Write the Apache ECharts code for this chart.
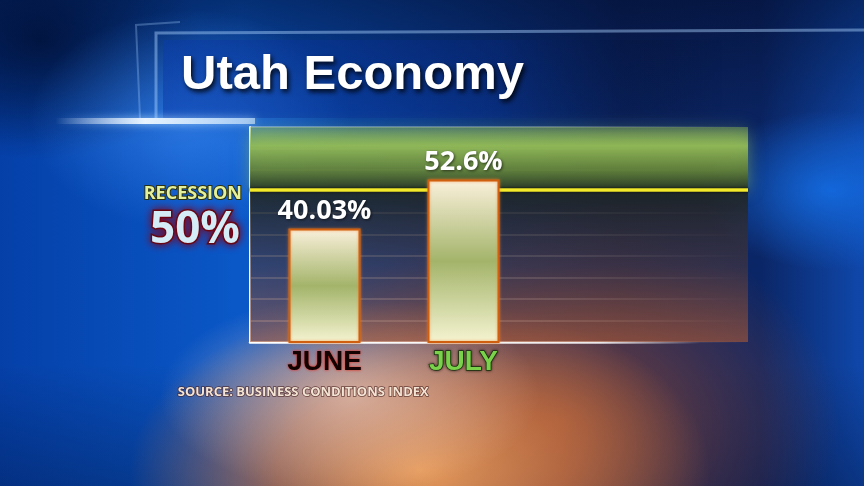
<!DOCTYPE html>
<html>
<head>
<meta charset="utf-8">
<script src="https://cdn.jsdelivr.net/npm/echarts@6/dist/echarts.min.js"></script>
<style>
  html, body { margin: 0; padding: 0; width: 864px; height: 486px; overflow: hidden; }
  body {
    background:
      radial-gradient(ellipse 190px 100px at 350px 395px, rgba(235,200,185,0.7), rgba(0,0,0,0) 100%),
      radial-gradient(ellipse 290px 170px at 420px 470px, rgba(240,160,90,0.95), rgba(210,120,65,0.7) 50%, rgba(0,0,0,0) 100%),
      radial-gradient(ellipse 280px 200px at 560px 420px, rgba(150,75,50,0.85), rgba(110,60,60,0.45) 60%, rgba(0,0,0,0) 100%),
      radial-gradient(ellipse 160px 110px at 190px 120px, rgba(70,150,255,0.55), rgba(0,0,0,0) 100%),
      radial-gradient(ellipse 130px 80px at 830px 190px, rgba(20,110,230,0.85), rgba(0,0,0,0) 100%),
      radial-gradient(ellipse 160px 120px at 40px 40px, rgba(0,10,40,0.7), rgba(0,0,0,0) 100%),
      linear-gradient(180deg, rgba(0,8,35,0.5) 0%, rgba(0,0,0,0) 30%, rgba(0,0,0,0) 75%, rgba(0,10,40,0.3) 100%),
      linear-gradient(90deg, #0540a8 0%, #0a58c8 28%, #0a3c92 52%, #0b2460 72%, #0b2666 88%, #0f48ac 100%);
  }
  #chart { width: 864px; height: 486px; }
</style>
</head>
<body>
<div id="chart"></div>
<script>
// ---- data ----
const categories = ['JUNE', 'JULY'];
const values = [40.03, 52.6];
const recessionValue = 50;
const recessionLabel = 'RECESSION';
const recessionValueLabel = '50%';
const titleText = 'Utah Economy';
const sourceText = 'SOURCE: BUSINESS CONDITIONS INDEX';

// ---- chart ----
const chart = echarts.init(document.getElementById('chart'), null, { renderer: 'canvas' });
const G = echarts.graphic;

const yMin = 11, yMax = 66, yInterval = 5.5;

const catStyles = [
  { color: '#120202', textBorderWidth: 0,
    textShadowColor: 'rgba(235,30,15,1)', textShadowBlur: 3 },
  { color: '#7ad24a', textBorderColor: '#1a3a0c', textBorderWidth: 1.5,
    textShadowColor: 'rgba(0,0,0,0.6)', textShadowBlur: 3 }
];

const option = {
  backgroundColor: 'transparent',
  animation: false,
  grid: [
    { left: 250, right: 116, top: 127, bottom: 144 },
    { left: 255, right: 331, top: 127, bottom: 144 }
  ],
  xAxis: [
    {
      gridIndex: 0, type: 'value', min: 0, max: 1,
      axisLine: { show: true, onZero: false, lineStyle: { width: 2.5,
        color: new G.LinearGradient(0, 0, 1, 0, [
          { offset: 0, color: 'rgba(255,255,255,1)' },
          { offset: 0.7, color: 'rgba(255,255,255,0.85)' },
          { offset: 0.9, color: 'rgba(255,255,255,0)' },
          { offset: 1, color: 'rgba(255,255,255,0)' }
        ]) } },
      axisTick: { show: false }, axisLabel: { show: false }, splitLine: { show: false }
    },
    {
      gridIndex: 1, type: 'category',
      data: categories.map((c, i) => ({ value: c, textStyle: catStyles[i] })),
      axisLine: { show: false }, axisTick: { show: false }, splitLine: { show: false },
      axisLabel: { margin: 6, fontFamily: 'Liberation Sans', fontWeight: 'bold', fontSize: 28 }
    }
  ],
  yAxis: [
    {
      gridIndex: 0, type: 'value', min: yMin, max: yMax, interval: yInterval,
      axisLine: { show: true, lineStyle: { color: 'rgba(255,255,255,0.95)', width: 2 } },
      axisTick: { show: false }, axisLabel: { show: false },
      splitLine: { show: true, lineStyle: { width: 2,
        color: new G.LinearGradient(0, 0, 1, 0, [
          { offset: 0, color: 'rgba(255,255,255,0.35)' },
          { offset: 0.6, color: 'rgba(255,255,255,0.28)' },
          { offset: 0.95, color: 'rgba(255,255,255,0.03)' },
          { offset: 1, color: 'rgba(255,255,255,0)' }
        ]) } }
    },
    {
      gridIndex: 1, type: 'value', min: yMin, max: yMax, interval: yInterval,
      show: false
    }
  ],
  series: [
    {
      type: 'line', xAxisIndex: 0, yAxisIndex: 0, data: [], z: 1,
      markArea: {
        silent: true,
        label: { show: false },
        data: [
          [
            { yAxis: recessionValue, itemStyle: {
              color: new G.LinearGradient(0, 0, 0, 1, [
                { offset: 0, color: 'rgba(140,180,80,0.45)' },
                { offset: 0.3, color: 'rgba(148,188,86,0.92)' },
                { offset: 0.7, color: 'rgba(95,125,55,0.9)' },
                { offset: 1, color: 'rgba(40,55,35,0.95)' }
              ]), shadowBlur: 14, shadowColor: 'rgba(140,180,80,0.6)' } },
            { yAxis: yMax }
          ],
          [
            { yAxis: yMin, itemStyle: {
              color: new G.LinearGradient(0, 0, 0, 1, [
                { offset: 0, color: 'rgba(28,34,30,0.88)' },
                { offset: 0.5, color: 'rgba(75,55,58,0.6)' },
                { offset: 1, color: 'rgba(170,90,55,0.6)' }
              ]) } },
            { yAxis: recessionValue }
          ]
        ]
      },
      markLine: {
        silent: true, symbol: 'none',
        label: { show: false },
        lineStyle: { color: '#f2ea2a', width: 3.5, type: 'solid', shadowBlur: 3, shadowColor: 'rgba(0,0,0,0.9)' },
        data: [{ yAxis: recessionValue }]
      }
    },
    {
      type: 'bar', xAxisIndex: 1, yAxisIndex: 1, z: 5,
      data: values,
      barWidth: 72,
      itemStyle: {
        color: new G.LinearGradient(0, 0, 0, 1, [
          { offset: 0, color: '#fbf1dc' },
          { offset: 0.5, color: '#a3b46a' },
          { offset: 1, color: '#f6f4d2' }
        ]),
        borderColor: '#d06010', borderWidth: 2,
        shadowBlur: 3, shadowColor: 'rgba(240,130,40,0.7)'
      },
      label: {
        show: true, position: 'top', distance: 4,
        formatter: p => p.value + '%',
        color: '#ffffff', fontFamily: 'Open Sans', fontWeight: 'bold', fontSize: 27,
        textShadowBlur: 3, textShadowColor: 'rgba(0,0,0,0.6)', textShadowOffsetX: 1, textShadowOffsetY: 1
      }
    }
  ],
  graphic: [
    { type: 'rect', z: 0, shape: { x: 163, y: 40, width: 560, height: 78 },
      style: { fill: new G.LinearGradient(0, 0, 1, 0, [
        { offset: 0, color: 'rgba(10,60,170,0.55)' },
        { offset: 0.6, color: 'rgba(8,40,130,0.35)' },
        { offset: 1, color: 'rgba(0,0,0,0)' }
      ]) } },
    { type: 'polyline', z: 0, shape: { points: [[156, 118], [156, 33], [864, 30]] },
      style: { stroke: 'rgba(170,210,255,0.45)', lineWidth: 3, fill: null } },
    { type: 'polyline', z: 0, shape: { points: [[140, 118], [136, 25], [180, 22]] },
      style: { stroke: 'rgba(170,210,255,0.3)', lineWidth: 2, fill: null } },
    { type: 'rect', z: 0, shape: { x: 55, y: 118, width: 200, height: 6 },
      style: { fill: new G.LinearGradient(0, 0, 1, 0, [
        { offset: 0, color: 'rgba(255,255,255,0)' },
        { offset: 0.45, color: 'rgba(240,248,255,0.95)' },
        { offset: 1, color: 'rgba(220,240,255,0.6)' }
      ]), shadowBlur: 8, shadowColor: 'rgba(180,220,255,0.9)' } },
    { type: 'text', z: 10, left: 181, top: 51,
      style: { text: titleText, fill: '#ffffff', font: 'bold 49px "Liberation Sans", Arial, sans-serif',
        textShadowBlur: 5, textShadowColor: 'rgba(0,0,0,0.85)', textShadowOffsetX: 2, textShadowOffsetY: 3 } },
    { type: 'text', z: 10, x: 242, y: 194,
      style: { text: recessionLabel, align: 'right', verticalAlign: 'middle',
        font: 'bold 18px "Open Sans", sans-serif',
        fill: '#e4f09a', stroke: '#2a3010', lineWidth: 2 } },
    { type: 'text', z: 10, x: 240, y: 230,
      style: { text: recessionValueLabel, align: 'right', verticalAlign: 'middle',
        font: 'bold 44px "Open Sans", sans-serif',
        fill: '#d4ecf6', stroke: '#5a0a14', lineWidth: 3,
        textShadowBlur: 8, textShadowColor: 'rgba(130,0,20,0.9)' } },
    { type: 'text', z: 10, left: 177, top: 385,
      style: { text: sourceText, fill: '#f4e4d4',
        font: 'bold 13px "Open Sans", sans-serif',
        stroke: 'rgba(60,20,20,0.7)', lineWidth: 1.5 } }
  ]
};

chart.setOption(option);
</script>
</body>
</html>
